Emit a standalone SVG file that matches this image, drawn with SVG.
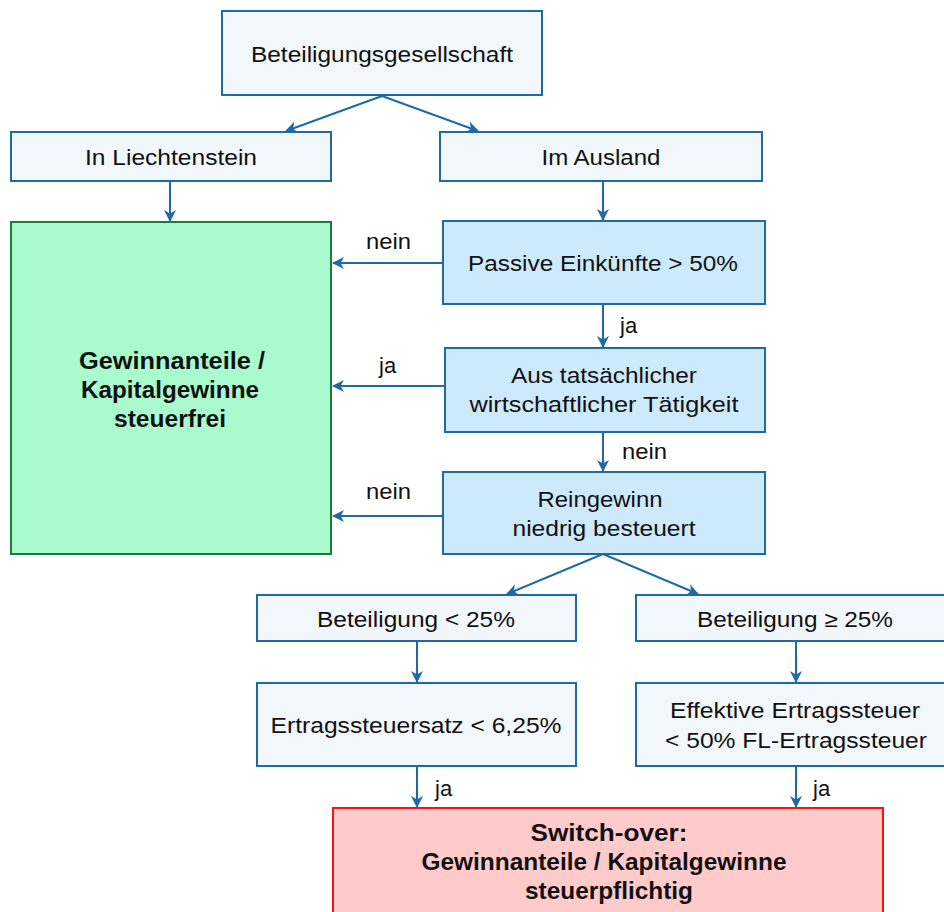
<svg xmlns="http://www.w3.org/2000/svg" width="944" height="912" viewBox="0 0 944 912">
<defs>
<marker id="ah" viewBox="0 0 12 12" refX="11" refY="6" markerWidth="12" markerHeight="12" markerUnits="userSpaceOnUse" orient="auto">
<path d="M0,0 L12,6 L0,12 L3.5,6 z" fill="#1f69a8"/>
</marker>
<style>
.gray{fill:#f2f7fb;stroke:#1f69a8;stroke-width:2}
.blue{fill:#cdeafd;stroke:#1f69a8;stroke-width:2}
.green{fill:#a9fbcd;stroke:#1b7d3a;stroke-width:2}
.red{fill:#ffcaca;stroke:#ff1010;stroke-width:2}
text{font-family:"Liberation Sans",Arial,sans-serif;font-size:22px;fill:#111;text-anchor:middle}
.b{font-weight:bold;font-size:23px}
.lbl{text-anchor:start}
.c{fill:none;stroke:#1f69a8;stroke-width:2;marker-end:url(#ah)}
</style>
</defs>
<rect width="944" height="912" fill="#ffffff"/>
<g id="connectors">
<path class="c" d="M382,96 L286,131"/>
<path class="c" d="M382,96 L478,131"/>
<path class="c" d="M170,181 L170,221"/>
<path class="c" d="M603,181 L603,220"/>
<path class="c" d="M443,263 L333,263"/>
<path class="c" d="M603,304 L603,347"/>
<path class="c" d="M445,386 L333,386"/>
<path class="c" d="M603,432 L603,471"/>
<path class="c" d="M443,516 L333,516"/>
<path class="c" d="M603,554 L507,594"/>
<path class="c" d="M603,554 L698,594"/>
<path class="c" d="M417,641 L417,682"/>
<path class="c" d="M796,641 L796,682"/>
<path class="c" d="M417,766 L417,807"/>
<path class="c" d="M796,766 L796,807"/>
<text class="lbl" x="366" y="249" textLength="45" lengthAdjust="spacingAndGlyphs">nein</text>
<text class="lbl" x="620" y="333">ja</text>
<text class="lbl" x="379" y="373">ja</text>
<text class="lbl" x="622" y="459" textLength="45" lengthAdjust="spacingAndGlyphs">nein</text>
<text class="lbl" x="366" y="499" textLength="45" lengthAdjust="spacingAndGlyphs">nein</text>
<text class="lbl" x="435" y="796">ja</text>
<text class="lbl" x="813" y="796">ja</text>
</g>
<g id="n-beteiligungsgesellschaft">
<rect class="gray" x="222" y="11" width="320" height="84"/>
<text x="382" y="62" textLength="262" lengthAdjust="spacingAndGlyphs">Beteiligungsgesellschaft</text>
</g>
<g id="n-liechtenstein">
<rect class="gray" x="11" y="132" width="320" height="49"/>
<text x="171" y="165" textLength="172" lengthAdjust="spacingAndGlyphs">In Liechtenstein</text>
</g>
<g id="n-ausland">
<rect class="gray" x="440" y="132" width="322" height="49"/>
<text x="601" y="165" textLength="119" lengthAdjust="spacingAndGlyphs">Im Ausland</text>
</g>
<g id="n-steuerfrei">
<rect class="green" x="11" y="222" width="320" height="332"/>
<text class="b" x="172" y="369" textLength="186" lengthAdjust="spacingAndGlyphs">Gewinnanteile /</text>
<text class="b" x="170" y="398" textLength="178" lengthAdjust="spacingAndGlyphs">Kapitalgewinne</text>
<text class="b" x="170" y="427" textLength="112" lengthAdjust="spacingAndGlyphs">steuerfrei</text>
</g>
<g id="n-passive">
<rect class="blue" x="443" y="221" width="322" height="83"/>
<text x="603" y="271" textLength="270" lengthAdjust="spacingAndGlyphs">Passive Einkünfte &gt; 50%</text>
</g>
<g id="n-taetigkeit">
<rect class="blue" x="445" y="348" width="320" height="84"/>
<text x="604" y="383" textLength="186" lengthAdjust="spacingAndGlyphs">Aus tatsächlicher</text>
<text x="604" y="412" textLength="269" lengthAdjust="spacingAndGlyphs">wirtschaftlicher Tätigkeit</text>
</g>
<g id="n-reingewinn">
<rect class="blue" x="443" y="472" width="322" height="82"/>
<text x="600" y="507" textLength="125" lengthAdjust="spacingAndGlyphs">Reingewinn</text>
<text x="604" y="536" textLength="183" lengthAdjust="spacingAndGlyphs">niedrig besteuert</text>
</g>
<g id="n-bet-kleiner">
<rect class="gray" x="257" y="595" width="319" height="46"/>
<text x="416" y="627" textLength="198" lengthAdjust="spacingAndGlyphs">Beteiligung &lt; 25%</text>
</g>
<g id="n-bet-groesser">
<rect class="gray" x="636" y="595" width="319" height="46"/>
<text x="795" y="627" textLength="196" lengthAdjust="spacingAndGlyphs">Beteiligung ≥ 25%</text>
</g>
<g id="n-ertragssteuersatz">
<rect class="gray" x="257" y="683" width="319" height="83"/>
<text x="416" y="733" textLength="291" lengthAdjust="spacingAndGlyphs">Ertragssteuersatz &lt; 6,25%</text>
</g>
<g id="n-effektive">
<rect class="gray" x="636" y="683" width="319" height="83"/>
<text x="795" y="718" textLength="250" lengthAdjust="spacingAndGlyphs">Effektive Ertragssteuer</text>
<text x="796" y="748" textLength="262" lengthAdjust="spacingAndGlyphs">&lt; 50% FL-Ertragssteuer</text>
</g>
<g id="n-switchover">
<rect class="red" x="333" y="808" width="550" height="120"/>
<text class="b" x="609" y="841" textLength="157" lengthAdjust="spacingAndGlyphs">Switch-over:</text>
<text class="b" x="604" y="870" textLength="365" lengthAdjust="spacingAndGlyphs">Gewinnanteile / Kapitalgewinne</text>
<text class="b" x="609" y="899" textLength="168" lengthAdjust="spacingAndGlyphs">steuerpflichtig</text>
</g>
</svg>
